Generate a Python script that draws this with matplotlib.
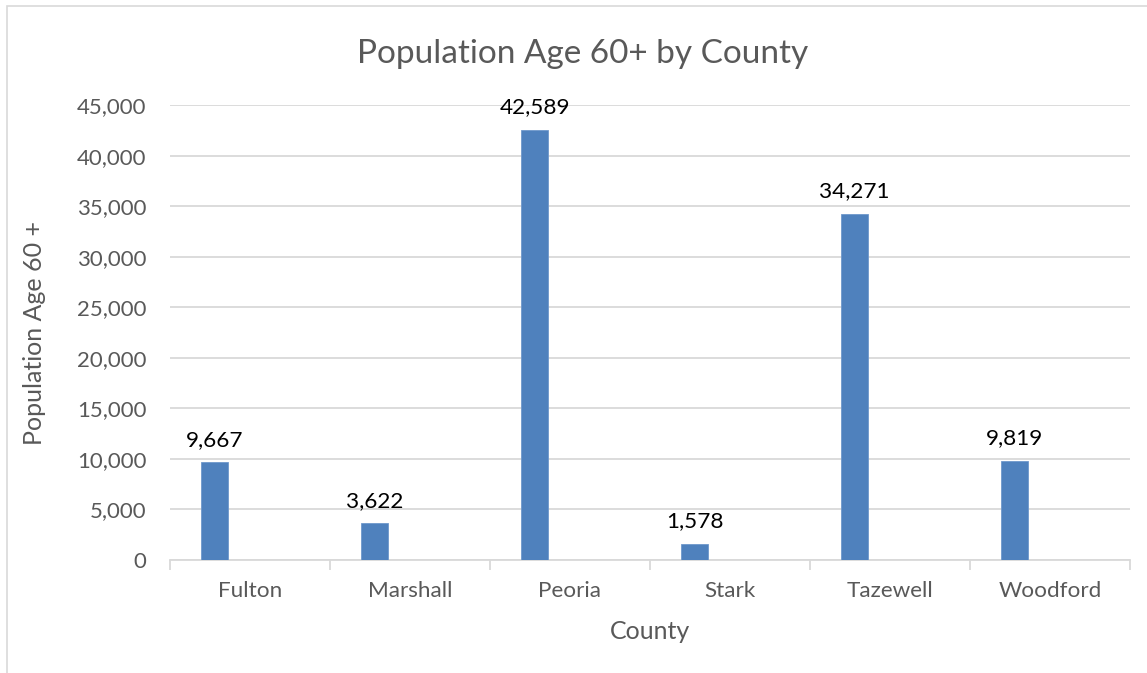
import matplotlib
matplotlib.use("Agg")
import matplotlib.pyplot as plt
from matplotlib.patches import Rectangle
from matplotlib.ticker import FuncFormatter
import numpy as np

counties = ["Fulton", "Marshall", "Peoria", "Stark", "Tazewell", "Woodford"]
population_60_plus = [9667, 3622, 42589, 1578, 34271, 9819]
y_ticks = [0, 5000, 10000, 15000, 20000, 25000, 30000, 35000, 40000, 45000]

plt.rcParams["font.family"] = ["Lato", "DejaVu Sans"]

W, H = 1147, 673
fig = plt.figure(figsize=(W / 100, H / 100), dpi=100)
fig.patch.set_facecolor("white")

# chart-area frame
fig.patches.append(Rectangle((7 / W, -0.1), 1.2, 1 - 6 / H + 0.1,
                             transform=fig.transFigure, fill=False,
                             edgecolor="#d9d9d9", linewidth=1.2))

ax = fig.add_axes([170 / W, 1 - 560 / H, 960 / W, (560 - 105.3) / H])

x = np.arange(len(counties))
bar_w = 0.172
offset = -0.222
bars = ax.bar(x + offset, population_60_plus, width=bar_w,
              color="#4f81bd", edgecolor="#6f98cc", linewidth=0.6, zorder=3)

for xi, v in zip(x, population_60_plus):
    ax.annotate(f"{v:,}", (xi + offset, v), xytext=(0, 9),
                textcoords="offset points", ha="center", va="bottom",
                fontsize=16.2, color="black")

ax.set_xlim(-0.5, len(counties) - 0.5)
ax.set_ylim(0, 45000)
ax.set_yticks(y_ticks)
ax.yaxis.set_major_formatter(FuncFormatter(lambda v, p: f"{int(v):,}"))
ax.set_xticks(x)
ax.set_xticklabels(counties)
ax.set_xticks(np.arange(len(counties) + 1) - 0.5, minor=True)

ax.grid(axis="y", color="#d9d9d9", linewidth=1.3, zorder=0)
for s in ["top", "right", "left"]:
    ax.spines[s].set_visible(False)
ax.spines["bottom"].set_color("#d9d9d9")
ax.spines["bottom"].set_linewidth(1.3)

ax.tick_params(axis="y", length=0, pad=17, labelsize=16, labelcolor="#595959")
ax.tick_params(axis="x", which="major", length=0, pad=15, labelsize=16.2,
               labelcolor="#595959")
ax.tick_params(axis="x", which="minor", length=7, width=1.3, color="#d9d9d9")

ax.set_xlabel("County", fontsize=18, color="#595959", labelpad=14)
ax.set_ylabel("Population Age 60 +", fontsize=18, color="#595959", labelpad=22)

fig.text(583 / W, 1 - 63 / H, "Population Age 60+ by County", ha="center",
         va="baseline", fontsize=24, color="#595959")

fig.savefig("out.png", dpi=100, facecolor="white")
